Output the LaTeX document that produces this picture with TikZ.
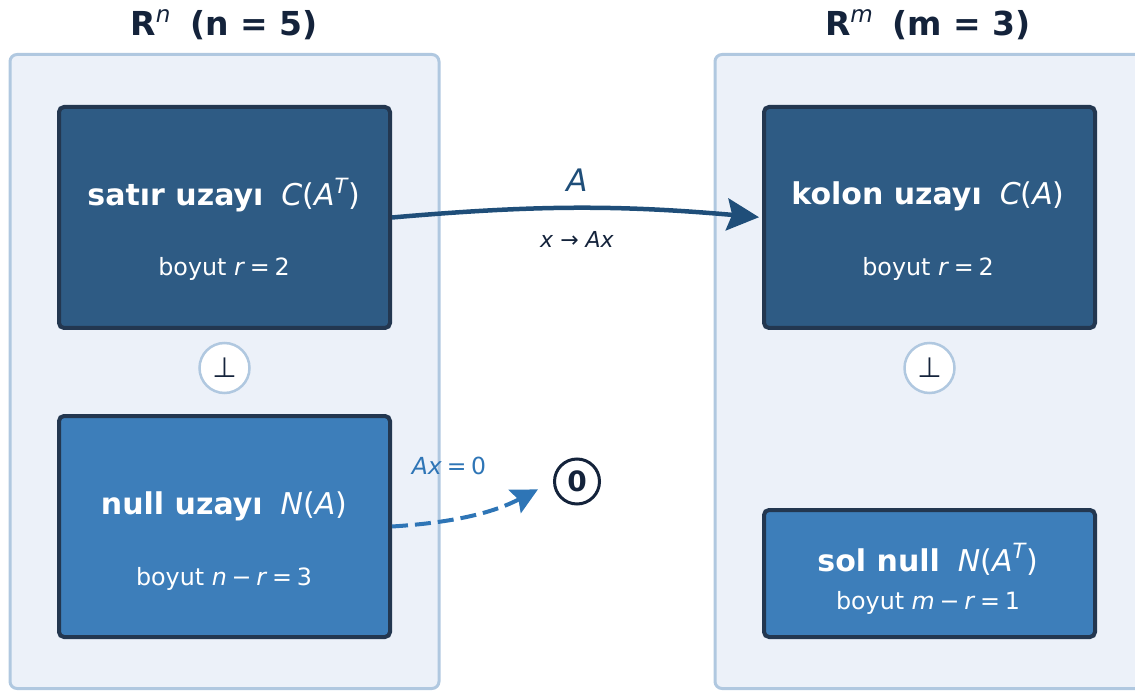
\documentclass[tikz,border=0pt]{standalone}
\usepackage{fontspec}
\setmainfont{DejaVu Sans}
\usepackage{graphicx}
\usetikzlibrary{arrows.meta}

\definecolor{panelfill}{HTML}{ECF1F9}
\definecolor{panelline}{HTML}{B0C8E0}
\definecolor{deepblue}{HTML}{2E5B84}
\definecolor{midblue}{HTML}{3D7EBA}
\definecolor{boxline}{HTML}{233750}
\definecolor{ink}{HTML}{14233B}
\definecolor{arrowdark}{HTML}{1F4E79}
\definecolor{arrowlight}{HTML}{2E75B6}

% small italic superscript and spaced relation signs
\newcommand\supit[1]{\raisebox{0.42em}{\scalebox{0.7}{\textit{#1}}}}
\newcommand\myeq{\hspace{0.2em}=\hspace{0.2em}}
\newcommand\mymin{\hspace{0.2em}−\hspace{0.2em}}

\tikzset{
  panel/.style={draw=panelline, fill=panelfill, line width=3pt, rounded corners=7pt,
                minimum width=429pt, minimum height=634pt},
  spacebox/.style={draw=boxline, line width=4pt, rounded corners=5pt, minimum width=331pt},
  darkbox/.style={spacebox, fill=deepblue, minimum height=221pt},
  lightbox/.style={spacebox, fill=midblue},
  boxtitle/.style={text=white, font=\fontsize{30}{34}\selectfont, anchor=base},
  boxsub/.style={text=white, font=\fontsize{23.8}{28}\selectfont, anchor=base},
  heading/.style={text=ink, font=\fontsize{33}{38}\selectfont\bfseries, anchor=base},
  perp/.style={circle, draw=panelline, fill=white, line width=2.5pt, minimum size=50pt,
               inner sep=0pt, text=ink, font=\fontsize{28}{32}\selectfont},
  zerodot/.style={circle, draw=ink, fill=white, line width=3pt, minimum size=45pt,
                  inner sep=0pt, text=ink, font=\fontsize{28}{32}\selectfont\bfseries},
  maparrow/.style={draw=arrowdark, line width=4.5pt, line join=round,
                   -{Stealth[length=32pt, width=32pt, inset=5pt]}},
  kernarrow/.style={draw=arrowlight, line width=4pt, dash pattern=on 16pt off 7pt,
                    -{Stealth[length=26pt, width=26pt, inset=4pt]}}
}

\begin{document}
\begin{tikzpicture}[x=1pt, y=-1pt]
  \useasboundingbox (0,0) rectangle (1135,692);
  \clip (0,0) rectangle (1135,692);

  % the two spaces
  \node[panel] (rn) at (224.5,371.5) {};
  \node[panel] (rm) at (929.5,371.5) {};
  \node[heading] (rnhead) at (224,36) {R\supit{\mdseries n}\hspace{0.6em}(n = 5)};
  \node[heading] (rmhead) at (928,36) {R\supit{\mdseries m}\hspace{0.6em}(m = 3)};

  % subspaces of R^n
  \node[darkbox] (rowsp) at (224.5,217.5) {};
  \node[boxtitle] (rowt) at (224,206) {\textbf{satır uzayı}\hspace{0.6em}\textit{C}(\textit{A}\supit{T})};
  \node[boxsub] (rows) at (224,276) {boyut \textit{r}\myeq 2};

  \node[lightbox, minimum height=221pt] (nullsp) at (224.5,526.5) {};
  \node[boxtitle] (nullt) at (224,514) {\textbf{null uzayı}\hspace{0.6em}\textit{N}(\textit{A})};
  \node[boxsub] (nulls) at (224,585) {boyut \textit{n}\mymin\textit{r}\myeq 3};

  \node[perp] (perpl) at (224.5,368) {⊥};

  % subspaces of R^m
  \node[darkbox] (colsp) at (929.5,217.5) {};
  \node[boxtitle] (colt) at (928,205) {\textbf{kolon uzayı}\hspace{0.6em}\textit{C}(\textit{A})};
  \node[boxsub] (cols) at (928,276) {boyut \textit{r}\myeq 2};

  \node[lightbox, minimum height=127pt] (lnullsp) at (929.5,573.5) {};
  \node[boxtitle] (lnullt) at (928,571) {\textbf{sol null}\hspace{0.6em}\textit{N}(\textit{A}\supit{T})};
  \node[boxsub] (lnulls) at (928,609) {boyut \textit{m}\mymin\textit{r}\myeq 1};

  \node[perp] (perpr) at (929.5,368) {⊥};

  % the zero vector
  \node[zerodot] (zero) at (577,481.5) {0};

  % the map A
  \draw[maparrow, shorten >=3pt] (rowsp.east) to[bend left=5] node[pos=0.5, above=11pt, text=arrowdark,
        font=\fontsize{31}{36}\selectfont\itshape] (alabel) {A} (colsp.west);
  \node[text=ink, font=\fontsize{22}{26}\selectfont, anchor=base] (xmap) at (577,248)
        {\textit{x} → \textit{Ax}};

  % the kernel goes to zero
  \draw[kernarrow, shorten >=17pt] (nullsp.east) to[bend right=12] (zero.west);
  \node[text=arrowlight, font=\fontsize{23.5}{28}\selectfont, anchor=base] (kerlabel) at (449,474)
        {\textit{Ax}\myeq 0};
\end{tikzpicture}
\end{document}
